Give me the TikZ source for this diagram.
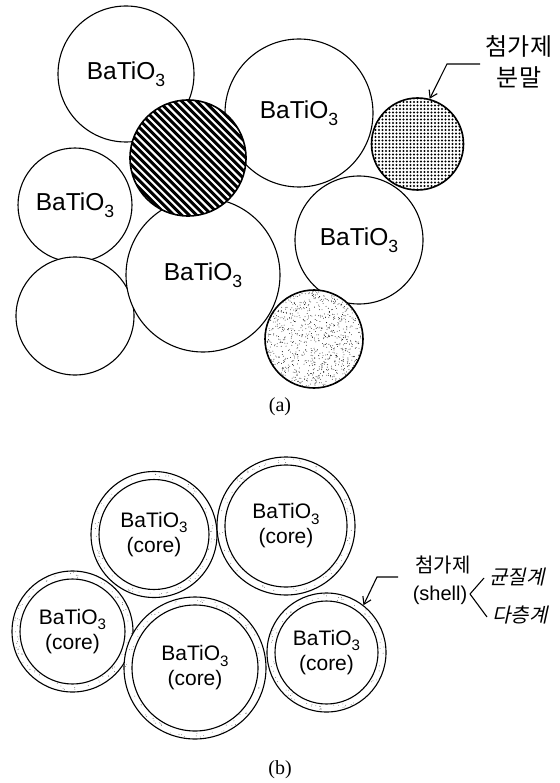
\documentclass[tikz,border=0pt]{standalone}
\usepackage{fontspec}
\usepackage{graphicx}
\setmainfont{Liberation Sans}
\newfontfamily\krfont{Noto Sans CJK KR}
\newfontfamily\krslant[FakeSlant=0.22]{Noto Sans CJK KR}
\newfontfamily\capfont{Liberation Serif}
\usetikzlibrary{arrows.meta}

% chemical formula with a lowered, smaller 3
\newcommand\tio{BaTiO\raisebox{-0.5ex}{\scalebox{0.72}{3}}}

\tikzset{
  grain/.style={circle, draw, fill=white, inner sep=0pt, line width=1.1pt},
  additive/.style={grain, line width=1.6pt},
  shellout/.style={circle, draw, fill=white, inner sep=0pt, line width=1.1pt},
  shellin/.style={circle, draw, inner sep=0pt, line width=1.1pt, align=center, font=\fontsize{21}{25}\selectfont},
  bigtext/.style={font=\fontsize{24.5}{28}\selectfont},
  pointer/.style={line width=1.1pt, -{Straight Barb[length=7pt,width=9pt,line width=1.1pt]}},
  krlabel/.style={inner sep=0pt, font=\krfont\fontsize{24}{28}\selectfont},
  caption/.style={inner sep=0pt, font=\capfont\fontsize{20}{24}\selectfont},
}

% a core grain wrapped in a thin additive shell with a few specks
\newcommand\shellgrain[5]{% name, x, y, outer radius, inner radius
  \node[shellout, minimum size=2*#4 pt] (#1) at (#2,#3) {};
  \begin{scope}[shift={(#2,#3)}]
    \foreach \n in {1,...,70}{
      \pgfmathsetmacro\ang{360*rnd}
      \pgfmathsetmacro\rr{#5+1.5+(#4-#5-3)*rnd}
      \fill[black!55] (\ang:\rr pt) circle[radius=0.45pt];
    }
  \end{scope}
  \node[shellin, minimum size=2*#5 pt] (#1core) at (#2,#3) {\tio\\(core)};
}

\begin{document}
\begin{tikzpicture}[x=1pt,y=-1pt]
\useasboundingbox (0,0) rectangle (559,783);
\pgfmathsetseed{4711}

% ---------- (a) mixed powders ----------
\node[grain, minimum size=136pt, bigtext] (g1) at (126,74) {\tio};
\node[grain, minimum size=148pt, bigtext] (g2) at (299,113) {\tio};
\node[grain, minimum size=114pt, bigtext] (g3) at (75,205) {\tio};
\node[grain, minimum size=118pt] (g4) at (75,316) {};
\node[grain, minimum size=154pt, bigtext] (g5) at (203,275) {\tio};
\node[grain, minimum size=128pt, bigtext] (g6) at (359,240) {\tio};

% striped additive particle
\node[additive, minimum size=116pt,
  path picture={
    \begin{scope}[shift={(path picture bounding box.center)}]
      \foreach \k in {-170,-162.4,...,170}
        \draw[black, line width=3pt] (\k-80,-80) -- (\k+80,80);
    \end{scope}}] (hatch) at (188,158) {};

% dotted additive particle
\node[additive, minimum size=92pt,
  path picture={
    \begin{scope}[shift={(path picture bounding box.center)}]
      \foreach \i in {-13,...,13}
        \foreach \j in {-13,...,13}
          \fill[black] (\i*3.5,\j*3.5) circle[radius=1.1pt];
    \end{scope}}] (dots) at (417.5,144) {};

% speckled additive particle
\node[additive, minimum size=98pt,
  path picture={
    \begin{scope}[shift={(path picture bounding box.center)}]
      \foreach \n in {1,...,850}{
        \pgfmathsetmacro\ang{360*rnd}
        \pgfmathsetmacro\rr{49*sqrt(rnd)}
        \fill[black] (\ang:\rr pt) circle[radius=0.42pt];
      }
    \end{scope}}] (speck) at (314,339) {};

% label of the additive powder
\node[krlabel] (addA1) at (519,46) {첨가제};
\node[krlabel] (addA2) at (519,77) {분말};
\coordinate (aStart) at (480,64);
\coordinate (aBend) at (447,64);
\draw[pointer] (aStart) -- (aBend) -- (dots.75);

\node[caption] (capA) at (280,407) {(a)};

% ---------- (b) core-shell grains ----------
\shellgrain{s1}{154}{534.5}{63}{55}
\shellgrain{s2}{286}{526}{69}{61}
\shellgrain{s3}{72.5}{631.5}{60.5}{52.5}
\shellgrain{s4}{195}{668}{71}{63}
\shellgrain{s5}{326.5}{652.5}{59.5}{51.5}

\node[krlabel, font=\krfont\fontsize{20}{24}\selectfont] (addB) at (443,565) {첨가제};
\node[inner sep=0pt, font=\fontsize{20}{24}\selectfont] (shellB) at (440,595) {(shell)};
\coordinate (fork) at (470,594);
\coordinate (forkUp) at (484,578);
\coordinate (forkDn) at (487,617);
\draw[line width=1.1pt] (fork) -- (forkUp);
\draw[line width=1.1pt] (fork) -- (forkDn);
\node[inner sep=0pt, font=\krslant\fontsize{20}{24}\selectfont] (homo) at (517,577) {균질계};
\node[inner sep=0pt, font=\krslant\fontsize{20}{24}\selectfont] (multi) at (520,615) {다층계};

\coordinate (bStart) at (398,577);
\coordinate (bBend) at (377,577);
\draw[pointer] (bStart) -- (bBend) -- (s5.52);

\node[caption] (capB) at (280,770) {(b)};
\end{tikzpicture}
\end{document}
